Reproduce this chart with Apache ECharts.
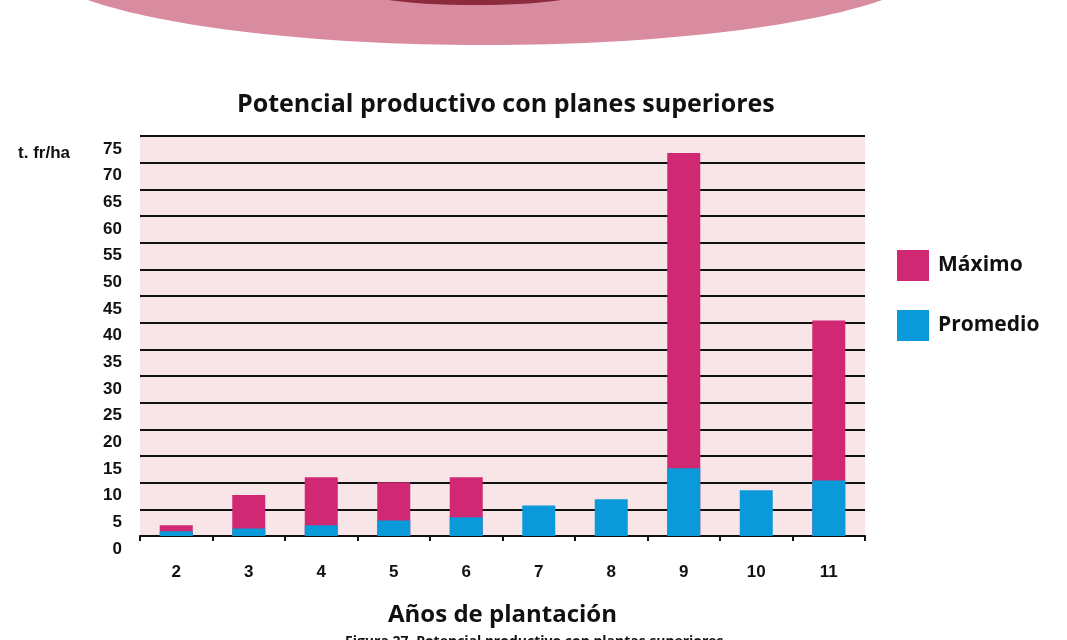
<!DOCTYPE html>
<html>
<head>
<meta charset="utf-8">
<title>Potencial productivo con planes superiores</title>
<script src="https://cdn.jsdelivr.net/npm/echarts@6/dist/echarts.min.js"></script>
<style>
  html, body { margin: 0; padding: 0; background: #ffffff; }
  #chart { width: 1067px; height: 640px; }
</style>
</head>
<body>
<div id="chart"></div>
<script>
// años de plantación
var years = ['2', '3', '4', '5', '6', '7', '8', '9', '10', '11'];
// t. fr/ha
var maximo = [2, 7.7, 11, 10.1, 11, '-', '-', 71.8, '-', 40.4];
var promedio = [0.9, 1.4, 2, 2.9, 3.5, 5.7, 6.9, 12.7, 8.6, 10.4];

var magenta = '#d02872';
var azul = '#0b9ad9';

var myChart = echarts.init(document.getElementById('chart'));

var option = {
  backgroundColor: '#ffffff',
  animation: false,
  // decoración rosa arriba + pie de figura cortado
  graphic: [
    {
      type: 'ellipse',
      shape: { cx: 485, cy: -40, rx: 450, ry: 85 },
      style: { fill: '#d98c9f' },
      z: -1
    },
    {
      type: 'ellipse',
      shape: { cx: 475, cy: -8, rx: 110, ry: 13 },
      style: { fill: '#8c2b3e' },
      z: -1
    },
    {
      type: 'text',
      left: 345,
      top: 635,
      style: {
        text: 'Figura 27. Potencial productivo con plantas superiores',
        font: 'bold 14px "Open Sans", sans-serif',
        fill: '#111'
      }
    }
  ],
  title: {
    text: 'Potencial productivo con planes superiores',
    left: 232,
    top: 87,
    textStyle: {
      fontFamily: 'Open Sans',
      fontWeight: 'bold',
      fontSize: 25,
      color: '#111'
    }
  },
  legend: {
    orient: 'vertical',
    left: 892,
    top: 245,
    itemWidth: 32,
    itemHeight: 31,
    itemGap: 29,
    icon: 'rect',
    data: ['Máximo', 'Promedio'],
    textStyle: {
      fontFamily: 'Open Sans',
      fontWeight: 'bold',
      fontSize: 21,
      color: '#111',
      padding: [0, 0, 0, 4]
    }
  },
  grid: {
    left: 140,
    right: 202,
    top: 136,
    bottom: 104,
    show: true,
    backgroundColor: '#f7e5e7',
    borderWidth: 0
  },
  xAxis: {
    type: 'category',
    data: years,
    name: 'Años de plantación',
    nameLocation: 'middle',
    nameGap: 67,
    nameTextStyle: {
      fontFamily: 'Open Sans',
      fontWeight: 'bold',
      fontSize: 24,
      color: '#111'
    },
    axisLine: { lineStyle: { color: '#111', width: 2 } },
    axisTick: { show: true, length: 5, lineStyle: { color: '#111', width: 2 } },
    axisLabel: {
      margin: 28,
      fontFamily: 'Liberation Sans',
      fontWeight: 'bold',
      fontSize: 17,
      color: '#111'
    },
    splitLine: { show: false }
  },
  yAxis: {
    type: 'value',
    min: 0,
    max: 75,
    interval: 5,
    name: 't. fr/ha',
    nameLocation: 'end',
    nameGap: -17,
    nameTextStyle: {
      align: 'right',
      verticalAlign: 'middle',
      padding: [0, 70, 0, 0],
      fontFamily: 'Liberation Sans',
      fontWeight: 'bold',
      fontSize: 17,
      color: '#111'
    },
    axisLine: { show: false },
    axisTick: { show: false },
    axisLabel: {
      margin: 18,
      showMinLabel: true,
      showMaxLabel: true,
      verticalAlign: 'top',
      lineHeight: 26,
      fontFamily: 'Liberation Sans',
      fontWeight: 'bold',
      fontSize: 17,
      color: '#111'
    },
    splitLine: { lineStyle: { color: '#111', width: 2 } }
  },
  series: [
    {
      name: 'Máximo',
      type: 'bar',
      data: maximo,
      barWidth: 33,
      barGap: '-100%',
      itemStyle: { color: magenta },
      z: 2
    },
    {
      name: 'Promedio',
      type: 'bar',
      data: promedio,
      barWidth: 33,
      barGap: '-100%',
      itemStyle: { color: azul },
      z: 3
    }
  ]
};

myChart.setOption(option);
</script>
</body>
</html>
